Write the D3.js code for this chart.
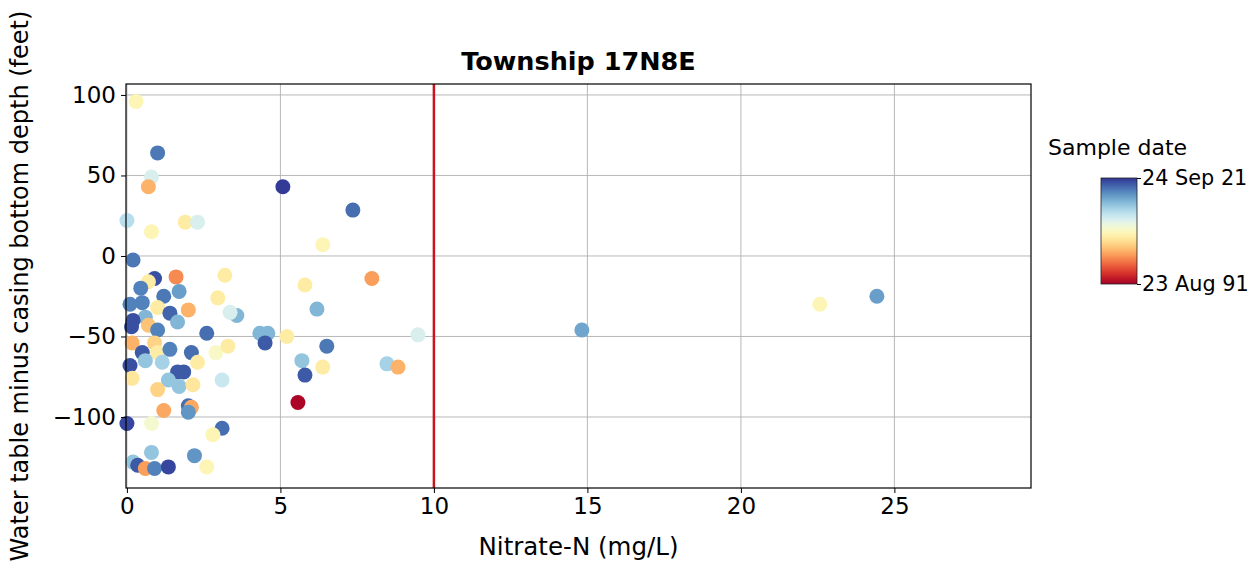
<!DOCTYPE html>
<html>
<head>
<meta charset="utf-8">
<script src="https://cdn.jsdelivr.net/npm/d3@7"></script>
<style>
  html, body { margin: 0; padding: 0; background: #fff; }
  svg { display: block; font-family: "DejaVu Sans", sans-serif; }
</style>
</head>
<body>
<svg id="chart" width="1255" height="567"></svg>
<script>
// ---- Data ----
const nitrate = [
  0.3, 1.0, 0.8, 0.7, 0.8, 0.0, 1.9, 2.3, 0.2, 0.9,
  1.6, 0.7, 0.45, 1.2, 1.7, 1.0, 0.5, 0.1, 1.4, 2.0,
  0.6, 0.2, 1.65, 2.6, 0.7, 1.0, 0.15, 0.9, 0.17, 0.5,
  1.0, 1.4, 2.1, 2.9, 0.1, 0.6, 1.15, 1.65, 1.85, 2.3,
  1.35, 1.7, 2.15, 0.17, 1.0, 3.1, 1.2, 2.0, 2.1, 2.0,
  0.0, 3.1, 2.8, 0.8, 0.8, 2.2, 0.2, 0.35, 0.6, 0.9,
  1.35, 2.6, 5.08, 7.36, 6.38, 7.98, 5.8, 3.19, 2.96, 6.19,
  3.58, 3.36, 4.33, 4.59, 4.5, 5.21, 6.51, 5.7, 6.38, 5.8,
  5.57, 8.47, 8.83, 9.48, 3.29, 14.82, 24.43, 22.57
];
const depth = [
  96, 64, 49, 43, 15, 22, 21, 21, -2.5, -14,
  -13, -16, -20, -25, -22, -32, -29, -30, -35.5, -33.5,
  -38, -40, -41, -48, -43, -46, -44, -54, -54, -60,
  -60, -58, -60, -60, -68, -65, -66, -72, -72, -66,
  -77, -81, -80, -76, -83, -77, -96, -93, -94, -97,
  -104, -107, -111, -104, -122, -124, -128, -130, -132, -132,
  -131, -131, 43, 28.5, 7, -14, -18, -12, -26, -33,
  -37, -35, -48, -48, -54, -50, -56, -65, -69, -74,
  -91, -67, -69, -49, -56, -46, -25, -30
];
const sampleYear = [
  2006, 2018.5, 2010, 2001, 2006, 2012, 2005, 2010, 2018.5, 2020.5,
  1999, 2005, 2018, 2018.5, 2016.5, 2005, 2018, 2018, 2019.5, 2001,
  2015, 2020.5, 2015, 2019, 2002, 2018, 2020.5, 2003, 2001, 2020,
  2005, 2018, 2019, 2007, 2020.5, 2014, 2013, 2020, 2020, 2005,
  2014, 2014, 2004.5, 2004.5, 2003, 2011, 2000.5, 2019, 2000.5, 2017,
  2021, 2019, 2006, 2007.5, 2014, 2017, 2014, 2020, 2000, 2018,
  2021, 2006, 2021.5, 2019, 2006, 2000, 2005, 2005, 2005, 2015,
  2015, 2010, 2015, 2015, 2020, 2005, 2018.5, 2014, 2005, 2020,
  1992, 2013, 2001, 2010, 2005, 2016, 2016.5, 2006
];
const xTicks = [0, 5, 10, 15, 20, 25];
const yTicks = [-100, -50, 0, 50, 100];
const dateRange = [1991.64, 2021.73];          // 23 Aug 1991 .. 24 Sep 2021
const dateLabels = ["23 Aug 91", "24 Sep 21"];
const nitrateLimit = 10;
const title = "Township 17N8E";
const xLabel = "Nitrate-N (mg/L)";
const yLabel = "Water table minus casing bottom depth (feet)";
const cbarTitle = "Sample date";

// ---- Layout ----
const svg = d3.select("#chart");
const plot = { left: 126, right: 1031, top: 84, bottom: 488 };

const x = d3.scaleLinear().domain([-0.03, 29.45]).range([plot.left, plot.right]);
const y = d3.scaleLinear().domain([-144.1, 106.8]).range([plot.bottom, plot.top]);
const color = d3.scaleSequential(d3.interpolateRdYlBu).domain(dateRange);

// grid
const g = svg.append("g");
g.selectAll("line.gx").data(xTicks).join("line")
  .attr("x1", d => x(d)).attr("x2", d => x(d))
  .attr("y1", plot.top).attr("y2", plot.bottom)
  .attr("stroke", "#b0b0b0").attr("stroke-width", 0.9);
g.selectAll("line.gy").data(yTicks).join("line")
  .attr("x1", plot.left).attr("x2", plot.right)
  .attr("y1", d => y(d)).attr("y2", d => y(d))
  .attr("stroke", "#b0b0b0").attr("stroke-width", 0.9);

// points
const pts = nitrate.map((v, i) => ({ n: v, d: depth[i], t: sampleYear[i] }));
svg.append("g").selectAll("circle").data(pts).join("circle")
  .attr("cx", d => x(d.n)).attr("cy", d => y(d.d)).attr("r", 7.5)
  .attr("fill", d => color(d.t));

// limit line
svg.append("line")
  .attr("x1", x(nitrateLimit)).attr("x2", x(nitrateLimit))
  .attr("y1", plot.top).attr("y2", plot.bottom)
  .attr("stroke", "#c8161d").attr("stroke-width", 2.5);

// frame
svg.append("rect")
  .attr("x", plot.left).attr("y", plot.top)
  .attr("width", plot.right - plot.left).attr("height", plot.bottom - plot.top)
  .attr("fill", "none").attr("stroke", "#000").attr("stroke-width", 1.2);

// axes
const xAxis = svg.append("g").attr("transform", `translate(0,${plot.bottom})`)
  .call(d3.axisBottom(x).tickValues(xTicks).tickSize(5).tickPadding(5).tickFormat(d3.format("d")));
const yAxis = svg.append("g").attr("transform", `translate(${plot.left},0)`)
  .call(d3.axisLeft(y).tickValues(yTicks).tickSize(5).tickPadding(5).tickFormat(d3.format("d")));
[xAxis, yAxis].forEach(a => {
  a.select(".domain").remove();
  a.selectAll(".tick line").attr("stroke", "#000").attr("stroke-width", 1);
  a.selectAll(".tick text").attr("fill", "#000")
    .style("font-family", "DejaVu Sans").style("font-size", "23px");
});

// title & labels
svg.append("text").attr("x", (plot.left + plot.right) / 2).attr("y", 70)
  .attr("text-anchor", "middle").style("font-weight", "bold").style("font-size", "25.5px")
  .text(title);
svg.append("text").attr("x", (plot.left + plot.right) / 2).attr("y", 555)
  .attr("text-anchor", "middle").style("font-size", "24.5px").text(xLabel);
svg.append("text")
  .attr("transform", `translate(28,${(plot.top + plot.bottom) / 2}) rotate(-90)`)
  .attr("text-anchor", "middle").style("font-size", "24px").text(yLabel);

// colorbar
const cb = { x: 1101, y: 178, w: 36, h: 106 };
const defs = svg.append("defs");
const grad = defs.append("linearGradient").attr("id", "cbgrad")
  .attr("x1", 0).attr("y1", 1).attr("x2", 0).attr("y2", 0);
d3.range(0, 1.0001, 0.05).forEach(t => {
  grad.append("stop").attr("offset", t)
    .attr("stop-color", color(dateRange[0] + t * (dateRange[1] - dateRange[0])));
});
svg.append("rect").attr("x", cb.x).attr("y", cb.y).attr("width", cb.w).attr("height", cb.h)
  .attr("fill", "url(#cbgrad)").attr("stroke", "#222").attr("stroke-width", 0.8);
const cbScale = d3.scaleLinear().domain(dateRange).range([cb.y + cb.h, cb.y]);
const cbAxis = svg.append("g").attr("transform", `translate(${cb.x + cb.w},0)`)
  .call(d3.axisRight(cbScale).tickValues(dateRange).tickSize(4).tickPadding(1)
    .tickFormat((d, i) => dateLabels[i]));
cbAxis.select(".domain").remove();
cbAxis.selectAll(".tick line").attr("stroke", "#000");
cbAxis.selectAll(".tick text").attr("fill", "#000")
  .style("font-family", "DejaVu Sans").style("font-size", "20.8px");
svg.append("text").attr("x", 1048).attr("y", 155)
  .style("font-size", "22px").text(cbarTitle);
</script>
</body>
</html>
